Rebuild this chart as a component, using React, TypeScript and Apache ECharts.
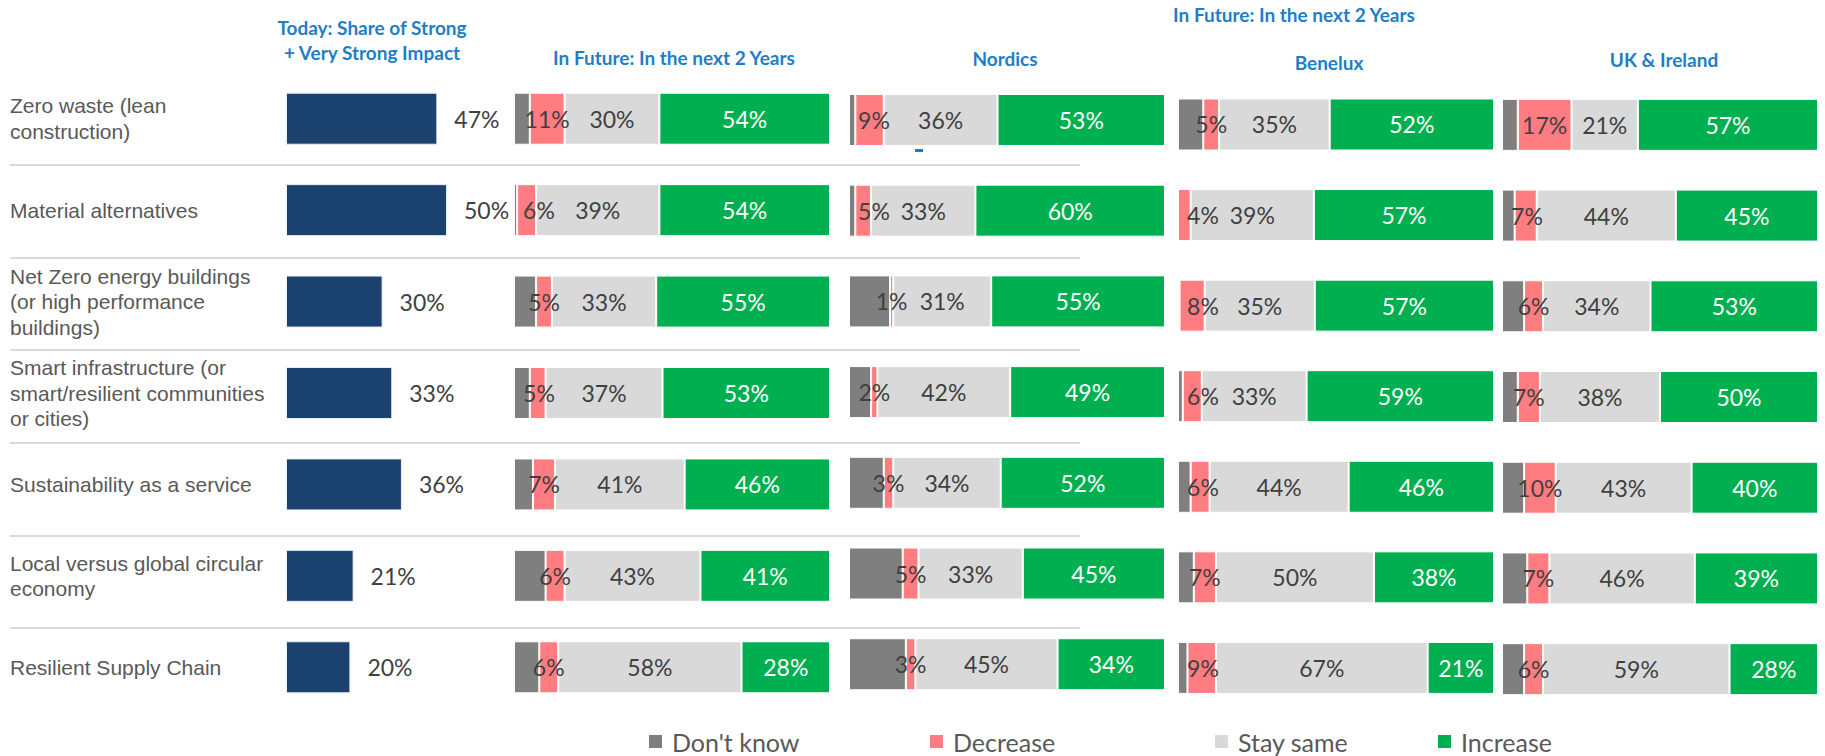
import React, { useEffect, useRef } from 'react';
import * as echarts from 'echarts';

// ---------- DATA ----------
const CATEGORIES = [
  'Zero waste (lean\nconstruction)',
  'Material alternatives',
  'Net Zero energy buildings\n(or high performance\nbuildings)',
  'Smart infrastructure (or\nsmart/resilient communities\nor cities)',
  'Sustainability as a service',
  'Local versus global circular\neconomy',
  'Resilient Supply Chain',
];

const TODAY_SHARE = [47, 50, 30, 33, 36, 21, 20];

const RESPONSES = ["Don't know", 'Decrease', 'Stay same', 'Increase'];

const OVERALL_DONT_KNOW = [5, 1, 7, 5, 6, 10, 8];
const OVERALL_DECREASE = [11, 6, 5, 5, 7, 6, 6];
const OVERALL_STAY_SAME = [30, 39, 33, 37, 41, 43, 58];
const OVERALL_INCREASE = [54, 54, 55, 53, 46, 41, 28];

const NORDICS_DONT_KNOW = [2, 2, 13, 7, 11, 17, 18];
const NORDICS_DECREASE = [9, 5, 1, 2, 3, 5, 3];
const NORDICS_STAY_SAME = [36, 33, 31, 42, 34, 33, 45];
const NORDICS_INCREASE = [53, 60, 55, 49, 52, 45, 34];

const BENELUX_DONT_KNOW = [8, 0, 0.5, 1.5, 4, 5, 3];
const BENELUX_DECREASE = [5, 4, 8, 6, 6, 7, 9];
const BENELUX_STAY_SAME = [35, 39, 35, 33, 44, 50, 67];
const BENELUX_INCREASE = [52, 57, 57, 59, 46, 38, 21];

const UKI_DONT_KNOW = [5, 4, 7, 5, 7, 8, 7];
const UKI_DECREASE = [17, 7, 6, 7, 10, 7, 6];
const UKI_STAY_SAME = [21, 44, 34, 38, 43, 46, 59];
const UKI_INCREASE = [57, 45, 53, 50, 40, 39, 28];

const PANELS = [
  [OVERALL_DONT_KNOW, OVERALL_DECREASE, OVERALL_STAY_SAME, OVERALL_INCREASE],
  [NORDICS_DONT_KNOW, NORDICS_DECREASE, NORDICS_STAY_SAME, NORDICS_INCREASE],
  [BENELUX_DONT_KNOW, BENELUX_DECREASE, BENELUX_STAY_SAME, BENELUX_INCREASE],
  [UKI_DONT_KNOW, UKI_DECREASE, UKI_STAY_SAME, UKI_INCREASE],
];

const TODAY_TITLE = 'Today: Share of Strong\n+ Very Strong Impact';
const FUTURE_TITLE = 'In Future: In the next 2 Years';
const PANEL_TITLES = [FUTURE_TITLE, 'Nordics', 'Benelux', 'UK & Ireland'];

// ---------- STYLE / LAYOUT ----------
const FONT = 'Lato, "Open Sans", sans-serif';
const ARIAL = '"Liberation Sans", Arial, sans-serif';
const BLUE = '#1E7EC8';
const NAVY = '#1B426E';
const COLORS = ['#7F7F7F', '#FF7C80', '#D9D9D9', '#00B050'];
const LABEL_COLORS = ['#404040', '#404040', '#404040', '#FFFFFF'];
const BAR_W = 52;
const PANEL_W = 316;
const VALUE_FONT = 23;
const TODAY_GRID = { left: 286, top: 73, width: 322, height: 640 };
const PANEL_GRIDS = [
  { left: 514, top: 73, width: PANEL_W, height: 640 },
  { left: 849, top: 74.6, width: PANEL_W, height: 635 },
  { left: 1178, top: 79.2, width: PANEL_W, height: 634 },
  { left: 1502, top: 79.5, width: PANEL_W, height: 635 },
];
const SEP_GRID = { left: 10, top: 72.4, width: 1070, height: 648.2 };
const TITLE_POS = [
  { x: 674, y: 57 },
  { x: 1005, y: 58 },
  { x: 1329, y: 62 },
  { x: 1664, y: 59 },
];
const LEGEND_X = [647, 928, 1213, 1436];
const LABEL_MIN_CENTER = 25;

function buildOption() {
  const grids: any[] = [TODAY_GRID, ...PANEL_GRIDS, SEP_GRID].map((g) => ({
    ...g,
    containLabel: false,
  }));

  const xAxes: any[] = [];
  const yAxes: any[] = [];

  // today
  xAxes.push({ type: 'value', gridIndex: 0, min: 0, max: 100, show: false });
  yAxes.push({
    type: 'category',
    gridIndex: 0,
    data: CATEGORIES,
    inverse: true,
    axisLine: { show: false },
    axisTick: { show: false },
    splitLine: { show: false },
    axisLabel: {
      interval: 0,
      align: 'left',
      margin: TODAY_GRID.left - 10,
      fontSize: 21,
      lineHeight: 25.5,
      color: '#595959',
      fontFamily: ARIAL,
      padding: [6, 0, 0, 0],
    },
  });

  PANEL_GRIDS.forEach((_, p) => {
    xAxes.push({ type: 'value', gridIndex: p + 1, min: 0, max: 100, show: false });
    yAxes.push({ type: 'category', gridIndex: p + 1, data: CATEGORIES, inverse: true, show: false });
  });

  // separators
  xAxes.push({ type: 'value', gridIndex: 5, min: 0, max: 100, show: false });
  yAxes.push({
    type: 'category',
    gridIndex: 5,
    data: CATEGORIES,
    inverse: true,
    axisLine: { show: false },
    axisTick: { show: false },
    axisLabel: { show: false },
    splitLine: {
      show: true,
      showMinLine: false,
      showMaxLine: false,
      lineStyle: { color: '#D9D9D9', width: 2 },
    },
  });

  const series: any[] = [];
  series.push({
    type: 'bar',
    name: 'Today',
    xAxisIndex: 0,
    yAxisIndex: 0,
    barWidth: BAR_W,
    data: TODAY_SHARE,
    itemStyle: { color: NAVY, borderColor: '#E8EEF5', borderWidth: 1 },
    label: {
      show: true,
      position: 'right',
      distance: 17,
      formatter: '{c}%',
      fontSize: VALUE_FONT,
      color: '#404040',
      fontFamily: FONT,
    },
  });

  const pxPerPct = PANEL_W / 100;
  PANELS.forEach((panel, p) => {
    const totals = CATEGORIES.map((_, i) => panel.reduce((s, arr) => s + arr[i], 0));
    panel.forEach((values, k) => {
      series.push({
        type: 'bar',
        name: RESPONSES[k],
        xAxisIndex: p + 1,
        yAxisIndex: p + 1,
        stack: 'panel' + p,
        barWidth: BAR_W,
        itemStyle: { color: COLORS[k], borderColor: '#FFFFFF', borderWidth: 1 },
        label: {
          show: k > 0,
          position: 'inside',
          formatter: (prm: any) => prm.data.raw + '%',
          fontSize: VALUE_FONT,
          color: LABEL_COLORS[k],
          fontFamily: FONT,
        },
        data: values.map((v, i) => {
          const share = (v / totals[i]) * 100;
          const item: any = { value: share, raw: v };
          if (k === 1) {
            const dk = (panel[0][i] / totals[i]) * 100;
            const center = (dk + share / 2) * pxPerPct;
            const shift = Math.max(0, LABEL_MIN_CENTER - center);
            item.label = { offset: [shift, 0] };
          }
          return item;
        }),
      });
    });
  });

  const legends = RESPONSES.map((name, i) => ({
    data: [name],
    left: LEGEND_X[i],
    top: 729,
    padding: 0,
    selectedMode: false,
    icon: 'rect',
    itemWidth: 15,
    itemHeight: 15,
    textStyle: {
      fontSize: 25,
      lineHeight: 24,
      color: '#595959',
      fontFamily: FONT,
      padding: [0, 0, 0, 4],
    },
  }));

  const titleStyle = {
    fill: BLUE,
    fontSize: 19,
    fontWeight: 'bold',
    fontFamily: FONT,
    align: 'center',
    verticalAlign: 'middle',
  };

  const graphics: any[] = [
    {
      type: 'text',
      x: 372,
      y: 40,
      style: { ...titleStyle, text: TODAY_TITLE, lineHeight: 25 },
    },
    {
      type: 'text',
      x: 1294,
      y: 14,
      style: { ...titleStyle, text: FUTURE_TITLE },
    },
    ...PANEL_TITLES.map((t, i) => ({
      type: 'text',
      x: TITLE_POS[i].x,
      y: TITLE_POS[i].y,
      style: { ...titleStyle, text: t },
    })),
    {
      type: 'rect',
      shape: { x: 915, y: 149, width: 8, height: 3 },
      style: { fill: BLUE },
    },
  ];

  return {
    animation: false,
    backgroundColor: '#FFFFFF',
    grid: grids,
    xAxis: xAxes,
    yAxis: yAxes,
    legend: legends,
    series,
    graphic: graphics,
  };
}

export default function App() {
  const ref = useRef<HTMLDivElement>(null);
  useEffect(() => {
    document.body.style.margin = '0';
    if (!ref.current) return;
    const chart = echarts.init(ref.current, undefined, { renderer: 'svg' });
    chart.setOption(buildOption() as any);
    return () => chart.dispose();
  }, []);
  return <div ref={ref} style={{ width: 1825, height: 756 }} />;
}
